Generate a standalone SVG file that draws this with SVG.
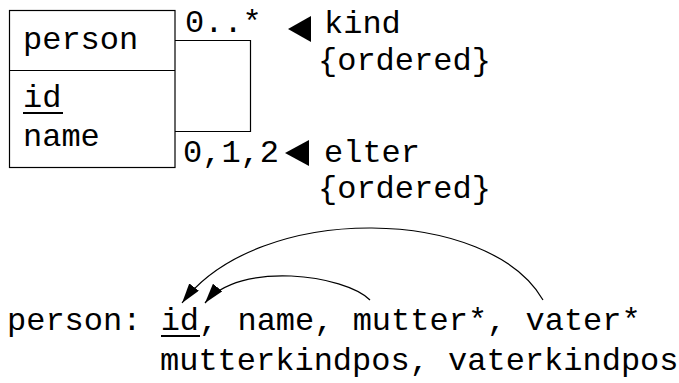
<svg xmlns="http://www.w3.org/2000/svg" width="679" height="383" viewBox="0 0 679 383">
<style>
text{font-family:"Liberation Mono","DejaVu Sans Mono",monospace;font-size:32px;fill:#000}
.ln{fill:none;stroke:#000;stroke-width:1.2}
.ul{stroke:#000;stroke-width:2}
.tri{fill:#000}
</style>
<defs>
<marker id="ah" viewBox="0 0 20 12" refX="20" refY="6" markerWidth="20" markerHeight="12" markerUnits="userSpaceOnUse" orient="auto">
<path d="M0,0 L20,6 L0,12 Z" fill="#000"/>
</marker>
</defs>
<rect width="679" height="383" fill="#fff"/>
<g id="person-class">
<rect class="ln" x="9.5" y="10.5" width="165.5" height="157"/>
<line class="ln" x1="9.5" y1="70.5" x2="175" y2="70.5"/>
<text x="23" y="49">person</text>
<text x="23" y="107">id</text>
<line class="ul" x1="23" y1="113" x2="63" y2="113"/>
<text x="23" y="146">name</text>
</g>
<g id="connectors">
<polyline class="ln" points="175,40.5 250.5,40.5 250.5,131.5 175,131.5"/>
<path class="ln" d="M543,300 C490,207 260,200 182,303" marker-end="url(#ah)"/>
<path class="ln" d="M370,300 C345,275 240,260 205,303" marker-end="url(#ah)"/>
</g>
<g id="kind-label">
<text x="185" y="32">0..*</text>
<polygon class="tri" points="288,29 311,16 311,42"/>
<text x="324" y="33">kind</text>
<text x="318" y="70">{ordered}</text>
</g>
<g id="elter-label">
<text x="183" y="162">0,1,2</text>
<polygon class="tri" points="285,153 309,140 309,166"/>
<text x="324" y="162">elter</text>
<text x="318" y="198">{ordered}</text>
</g>
<g id="schema">
<text x="7" y="330">person: id, name, mutter*, vater*</text>
<line class="ul" x1="161" y1="336" x2="200" y2="336"/>
<text x="160" y="370">mutterkindpos, vaterkindpos</text>
</g>
</svg>
